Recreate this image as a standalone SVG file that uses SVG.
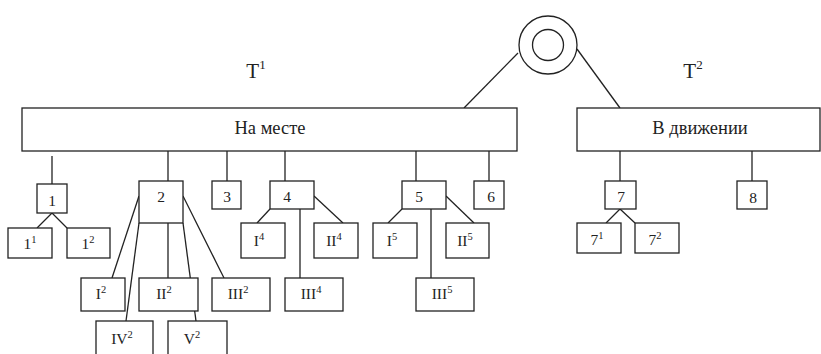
<svg xmlns="http://www.w3.org/2000/svg" width="821" height="354" viewBox="0 0 821 354">
<style>
rect{fill:#fff;stroke:#222;stroke-width:1.3}
circle{fill:none;stroke:#222;stroke-width:1.3}
#connectors line{stroke:#222;stroke-width:1.3}
text{font-family:"Liberation Serif","Times New Roman",serif;fill:#222;text-anchor:middle}
.b{font-size:15.5px}
.big{font-size:18.5px}
.t{font-size:21px}
.s{font-size:10.5px}
.ts{font-size:13px}
</style>
<rect x="0" y="0" width="821" height="354" style="stroke:none"/>
<g id="connectors">
<line x1="518" y1="53" x2="464" y2="108"/>
<line x1="577" y1="49" x2="620" y2="108"/>
<line x1="52" y1="156" x2="52" y2="184"/>
<line x1="168" y1="151" x2="168" y2="181"/>
<line x1="227" y1="151" x2="227" y2="181"/>
<line x1="285" y1="151" x2="285" y2="181"/>
<line x1="416" y1="151" x2="416" y2="181"/>
<line x1="489" y1="151" x2="489" y2="181"/>
<line x1="620" y1="151" x2="620" y2="181"/>
<line x1="752" y1="151" x2="752" y2="181"/>
<line x1="52" y1="213" x2="37" y2="228"/>
<line x1="52" y1="213" x2="67" y2="228"/>
<line x1="139" y1="196" x2="112" y2="278"/>
<line x1="139" y1="223" x2="126" y2="321"/>
<line x1="168" y1="223" x2="168" y2="278"/>
<line x1="183" y1="223" x2="196" y2="321"/>
<line x1="183" y1="196" x2="224" y2="278"/>
<line x1="270" y1="209" x2="257" y2="223"/>
<line x1="314" y1="196" x2="343" y2="223"/>
<line x1="300" y1="209" x2="300" y2="278"/>
<line x1="402" y1="209" x2="388" y2="223"/>
<line x1="446" y1="196" x2="474" y2="223"/>
<line x1="431" y1="209" x2="431" y2="278"/>
<line x1="620" y1="209" x2="606" y2="223"/>
<line x1="620" y1="209" x2="635" y2="223"/>
</g>
<g id="root"><circle cx="548" cy="45" r="29"/><circle cx="548" cy="45" r="15.5"/></g>
<g id="T1"><text x="256" y="78" class="t">T<tspan class="ts" dy="-9">1</tspan></text></g>
<g id="T2"><text x="693" y="78" class="t">T<tspan class="ts" dy="-9">2</tspan></text></g>
<g id="na-meste"><rect x="22" y="108" width="495" height="43"/><text x="270" y="134" class="big">На месте</text></g>
<g id="v-dvizhenii"><rect x="577" y="108" width="243" height="43"/><text x="700" y="134" class="big">В движении</text></g>
<g id="n1"><rect x="37" y="184" width="30" height="29"/><text x="52" y="206" class="b">1</text></g>
<g id="n1-1"><rect x="8" y="228" width="44" height="30"/><text x="30" y="249" class="b">1<tspan class="s" dy="-6">1</tspan></text></g>
<g id="n1-2"><rect x="67" y="228" width="43" height="30"/><text x="88" y="249" class="b">1<tspan class="s" dy="-6">2</tspan></text></g>
<g id="n2"><rect x="139" y="181" width="44" height="42"/><text x="161" y="202" class="b">2</text></g>
<g id="n3"><rect x="212" y="181" width="29" height="28"/><text x="227" y="202" class="b">3</text></g>
<g id="n4"><rect x="270" y="181" width="44" height="28"/><text x="287" y="202" class="b">4</text></g>
<g id="n5"><rect x="402" y="181" width="44" height="28"/><text x="419" y="202" class="b">5</text></g>
<g id="n6"><rect x="474" y="181" width="30" height="28"/><text x="491" y="202" class="b">6</text></g>
<g id="n7"><rect x="605" y="181" width="31" height="28"/><text x="621" y="202" class="b">7</text></g>
<g id="n8"><rect x="737" y="181" width="30" height="28"/><text x="753" y="203" class="b">8</text></g>
<g id="nI2"><rect x="81" y="278" width="44" height="33"/><text x="101" y="299" class="b">I<tspan class="s" dy="-6">2</tspan></text></g>
<g id="nII2"><rect x="139" y="278" width="59" height="33"/><text x="164" y="299" class="b">II<tspan class="s" dy="-6">2</tspan></text></g>
<g id="nIII2"><rect x="212" y="278" width="58" height="33"/><text x="238" y="299" class="b">III<tspan class="s" dy="-6">2</tspan></text></g>
<g id="nIV2"><rect x="96" y="321" width="57" height="40"/><text x="122" y="344" class="b">IV<tspan class="s" dy="-6">2</tspan></text></g>
<g id="nV2"><rect x="168" y="321" width="59" height="40"/><text x="192" y="344" class="b">V<tspan class="s" dy="-6">2</tspan></text></g>
<g id="nI4"><rect x="241" y="223" width="44" height="35"/><text x="259" y="246" class="b">I<tspan class="s" dy="-6">4</tspan></text></g>
<g id="nII4"><rect x="314" y="223" width="44" height="35"/><text x="334" y="246" class="b">II<tspan class="s" dy="-6">4</tspan></text></g>
<g id="nIII4"><rect x="285" y="278" width="58" height="33"/><text x="311" y="299" class="b">III<tspan class="s" dy="-6">4</tspan></text></g>
<g id="nI5"><rect x="373" y="223" width="44" height="35"/><text x="392" y="246" class="b">I<tspan class="s" dy="-6">5</tspan></text></g>
<g id="nII5"><rect x="446" y="223" width="43" height="35"/><text x="465" y="246" class="b">II<tspan class="s" dy="-6">5</tspan></text></g>
<g id="nIII5"><rect x="416" y="278" width="58" height="33"/><text x="442" y="299" class="b">III<tspan class="s" dy="-6">5</tspan></text></g>
<g id="n7-1"><rect x="577" y="223" width="44" height="30"/><text x="597" y="245" class="b">7<tspan class="s" dy="-6">1</tspan></text></g>
<g id="n7-2"><rect x="635" y="223" width="44" height="30"/><text x="655" y="245" class="b">7<tspan class="s" dy="-6">2</tspan></text></g>
</svg>
